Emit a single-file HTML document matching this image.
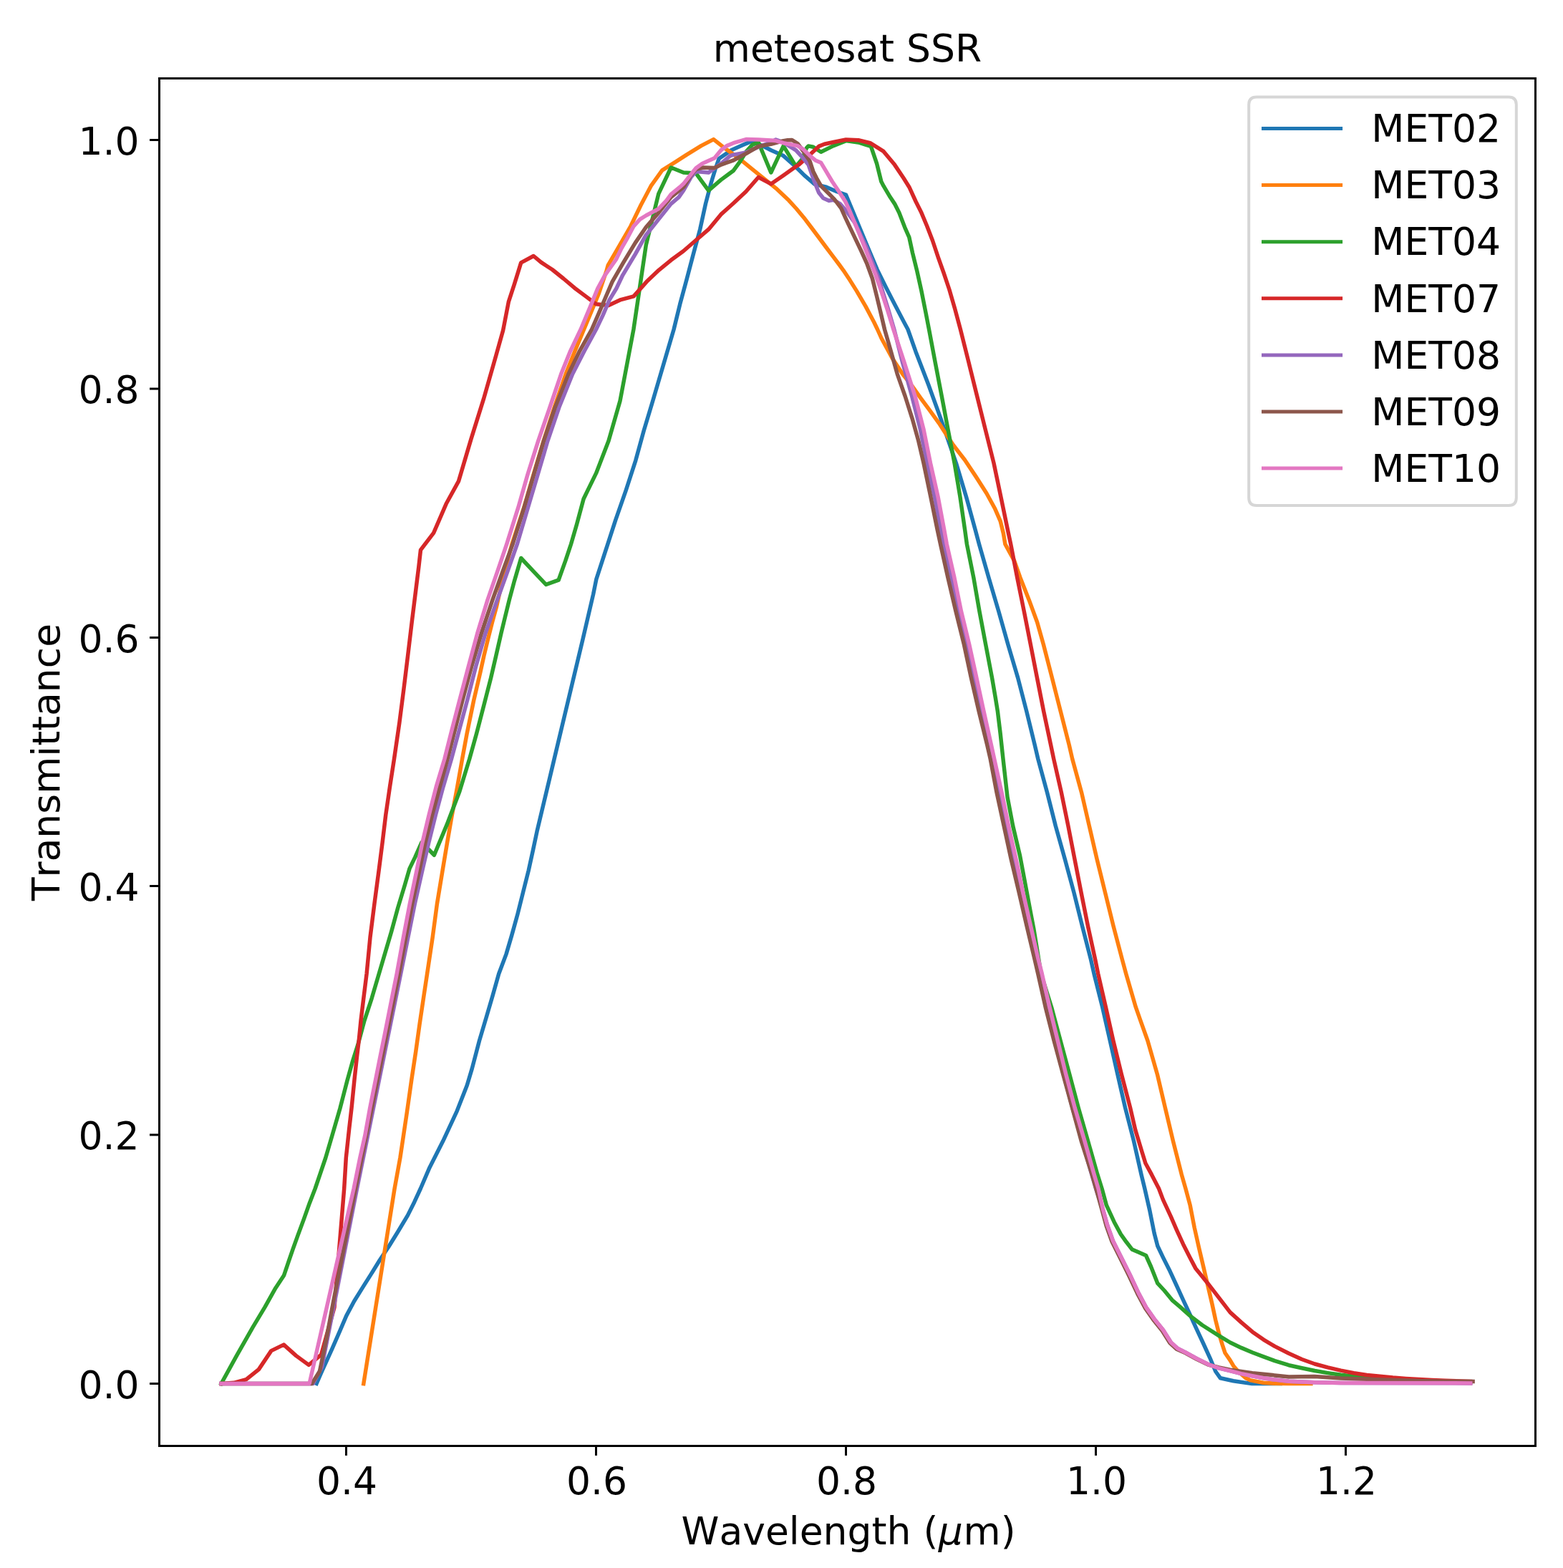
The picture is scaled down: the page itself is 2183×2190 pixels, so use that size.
<!DOCTYPE html>
<html lang="en"><head><meta charset="utf-8"><title>meteosat SSR</title>
<style>
html,body{margin:0;padding:0;background:#fff;}
body{width:2183px;height:2190px;overflow:hidden;}
svg{display:block;}
text{font-family:"DejaVu Sans","Liberation Sans",sans-serif;font-size:53.5px;fill:#000;font-kerning:none;}
.c{fill:none;stroke-width:5.5;stroke-linejoin:round;stroke-linecap:square;}
.h{fill:none;stroke-width:5;stroke-linecap:butt;}
.t{stroke:#000;stroke-width:3;fill:none;}
</style></head><body>
<svg xmlns="http://www.w3.org/2000/svg" width="2183" height="2190" viewBox="0 0 2183 2190">
<rect width="2183" height="2190" fill="#fff"/>
<defs><clipPath id="ax"><rect x="222.5" y="109.5" width="1922.0" height="1910.0"/></clipPath></defs>
<g clip-path="url(#ax)">
<polyline class="c" stroke="#1f77b4" points="442.1,1932.4 449.5,1915.5 463.6,1884.3 474.5,1859.4 483.8,1837.6 494.7,1817.3 507.2,1797.1 518.1,1779.9 530.5,1759.7 543,1741 555.5,1720.7 569.5,1697.4 578.8,1678.7 587.4,1660 600,1630.7 618.8,1593.6 638.3,1551.6 652.3,1515.8 659.3,1492.4 669.5,1453.5 678.8,1422.3 687.9,1391.2 696.7,1360 707,1332.6 714.8,1306.1 722.6,1278.1 730.4,1246.9 738.2,1215.8 744.4,1187.7 750,1161.2 774.1,1060 814.1,892.3 828.6,830 832.8,809.2 846.3,767.7 859.8,726.1 874.3,684.6 887.8,643.1 899.2,601.5 911.7,560 941.1,460 949.7,424.8 959,390.5 968.4,354.7 977.7,320.4 985.5,284.6 993.3,255 999.5,234.8 1004.2,221.5 1021.3,209.8 1036.9,202.8 1050.6,196.9 1068.1,205.2 1076.8,209.8 1094.2,217.6 1111.7,233.2 1123.4,244.9 1137.9,257.4 1153,260.9 1168.5,267.5 1181.5,272.1 1199.7,315.8 1212.1,345.5 1225.1,376.4 1237.1,400.7 1249.8,425.6 1262.5,449.7 1268,460 1279,491.2 1297,537.9 1313.9,584.6 1324.7,615.8 1335.4,646.9 1349.4,693.6 1362.3,740.4 1367.5,760 1380.9,806.7 1394.7,853.5 1407.9,900.2 1421.7,946.9 1433.8,993.6 1445.2,1040.4 1449.8,1060 1462.5,1106.7 1474.3,1153.5 1487.4,1200.2 1500,1246.9 1511.6,1293.6 1523.6,1340.4 1528,1360 1539.7,1406.7 1550.3,1453.5 1560.8,1500.2 1571.5,1546.9 1583.5,1593.6 1594,1640.4 1598.8,1660 1605.9,1691.2 1612.1,1722.3 1616.8,1740.2 1624.6,1756.6 1634,1775.3 1643.3,1795.5 1652.6,1815.8 1662,1836 1671.3,1856.3 1680.7,1876.5 1690,1896.8 1697.8,1915.5 1704.5,1924.8 1722.7,1928.7 1748.6,1932.6 1788.2,1932.6"/>
<polyline class="c" stroke="#ff7f0e" points="507.8,1932.6 551.1,1660 558.9,1617 568.2,1554.7 574.8,1508 580.7,1469 586.1,1430.1 591.9,1391.2 596.6,1360 604.2,1309.2 610.4,1262.5 618.1,1215.8 624.6,1176.8 631.4,1137.9 638.7,1098.9 645.6,1060 652.1,1024.8 661.7,978.1 670.8,939.1 675.9,915.8 681.6,892.4 687.5,869 693.5,847.2 702.6,806.7 715,760 731.7,709.2 745.2,662.5 759.2,615.8 774.2,569 790.2,522.3 802.6,491.2 815.6,460 827.7,431 836.6,409.2 847.1,378.1 849.3,370.3 864.7,343.8 880.9,315.8 895.2,286.2 909.2,259.7 924.8,237.9 943.5,226.2 959,216.1 979.3,203.6 996.6,194.6 1014,208.3 1031.5,220.7 1048.9,234.8 1068.1,250.3 1083.6,262.8 1101.9,280.1 1112.3,291.5 1122.7,303.9 1133,317.5 1143.5,331.5 1153.9,345.5 1164.2,359.1 1172.4,370 1177.9,377.6 1187.2,391.6 1196.6,406.6 1209,427.9 1220.7,450 1225.5,460 1231.1,472.5 1246.3,500.5 1261.7,523.9 1274.1,539.4 1286.3,556.6 1298.9,573.7 1311.3,590.8 1322.4,608 1331.7,622 1347.4,642.2 1363,665.6 1377.9,689 1389.8,710.8 1397.2,727.9 1401.4,745 1403.9,760 1416.7,783.4 1424.9,806.7 1437.2,837.9 1448.6,869 1457.4,900.2 1469.4,946.9 1481.3,993.6 1493.2,1040.4 1497.7,1060 1510.5,1106.7 1521.3,1153.5 1532.1,1200.2 1543.6,1246.9 1555.1,1293.6 1567.4,1340.4 1572.7,1360 1586.3,1406.7 1591.8,1422.3 1602.9,1453.5 1616.3,1500.2 1627.3,1546.9 1638.4,1593.6 1650.3,1640.4 1655.9,1660 1662.2,1683.4 1668.2,1714.5 1674.5,1742.6 1680.7,1769 1686.9,1795.5 1693.1,1822 1697.8,1843.8 1702.5,1862.5 1707.2,1878.1 1711.1,1889.8 1718.1,1899.9 1722.7,1907.7 1729.4,1915.5 1739.9,1924.8 1746.9,1927.9 1764.3,1931.3 1781.8,1932.3 1800,1932.6 1830.9,1932.6"/>
<polyline class="c" stroke="#2ca02c" points="309,1932.6 330.4,1893.6 353,1853.9 370.1,1825.4 384.9,1798.9 396.6,1781.2 402.8,1762.8 409,1744.9 416,1725.4 424.6,1702.1 432.4,1680.2 440.2,1660 454.8,1617 463.9,1585.9 474.8,1548.5 484.9,1509.5 492.7,1481.5 499.7,1459.7 509,1425.4 519.2,1394.3 529.3,1360 546.6,1301.4 555.9,1267.2 565.4,1236 571.9,1213.4 579.8,1197.1 588.9,1176.5 606.4,1194.3 624.1,1151.9 641.9,1105.2 655.7,1060 665.5,1024.8 675.6,985.9 685.6,946.9 692.8,915.8 699.9,884.6 705.6,861.2 711.3,837.9 718.4,811.4 724.3,791.2 727.7,779.5 745.2,798.2 762.6,816.4 780.1,810.2 789.7,783.4 797.5,760 805.5,732.6 815.1,696.8 832.6,660.9 850,615.8 866,560 884.9,460 896.7,380.1 902.3,342.2 919.8,270.6 937.2,234 954.7,241 972.1,242.1 989.6,266.2 1007,251.1 1024.5,238.2 1033.8,225.4 1041.9,212.2 1050.9,202.1 1059.3,198.9 1076.8,241 1094.2,203.9 1111.7,232.4 1120.2,222.3 1126.5,206.7 1129.1,203.9 1135.8,205.2 1146.6,212.2 1164,203.6 1181.5,196.6 1198.9,198.9 1209,202.1 1216.4,204.4 1224.6,228.5 1230.8,253.5 1234,259.7 1243.3,275.3 1249.5,284.6 1255.8,297.1 1263.6,317.3 1269.8,331.3 1274.5,353.1 1280.7,378.1 1286.9,406.1 1293.1,437.3 1297.5,460 1306.3,506.7 1315.3,553.5 1324.1,600.2 1333.1,646.9 1340.9,693.6 1347.7,740.4 1350.4,760 1359.8,806.7 1367.9,853.5 1376.7,900.2 1385.6,946.9 1390.4,975 1393.4,993.6 1397.2,1024.8 1401,1060 1407,1113 1414.7,1153.5 1424.6,1195.5 1434.3,1246.9 1440.1,1278.1 1443.7,1296.8 1454,1360 1468.6,1406.7 1481.1,1453.5 1493.7,1500.2 1506.1,1546.9 1519.5,1593.6 1532.8,1640.4 1539,1660 1545.4,1683.4 1556.1,1706.7 1565.4,1723.9 1573.2,1734.8 1581,1744.9 1590.3,1749.1 1600.5,1753.5 1607.5,1769 1616.8,1792.4 1626.2,1802.5 1637.1,1815.8 1648,1825.1 1662,1837.6 1679.1,1850.8 1702.5,1865.6 1718.1,1875 1733.6,1882.4 1749.2,1889 1764.8,1894.9 1780.4,1900.7 1800,1906.7 1818.2,1910.8 1836.3,1914.5 1854.5,1917.6 1872.7,1920.3 1890.9,1922.3 1909,1924.5 1945.4,1926.8 1981.7,1928.3 2053.7,1930.8"/>
<polyline class="c" stroke="#d62728" points="309,1932.6 326.5,1931.3 343.9,1926.7 361.4,1912.6 378.8,1886.6 396.3,1878.1 413.7,1893.6 431.2,1906.4 448.6,1892.1 467,1825.9 480.7,1660 483.3,1617 487.5,1578.1 491.1,1546.9 495,1508 498.4,1476.8 501.2,1453.5 504,1425.4 507.8,1394.3 512.1,1360 517,1309.2 522.9,1262.5 529.1,1215.8 534.1,1176.8 538.8,1137.9 544.5,1098.9 550.5,1060 557.9,1009.2 563.9,962.5 569.6,915.8 575.2,869 581,822.3 584.9,791.2 587.5,768.1 605.6,744.3 623.1,703.8 640.5,672.1 657.9,613.4 675.4,557.4 692.8,496.6 702.6,461.6 710.3,421.7 718.4,396.8 727.7,366.9 745.2,357.5 755.8,366.4 771.3,376.5 786.9,389 802.5,402.2 818.1,413.9 832.6,424.8 850,426.4 867.1,418.6 885,413.9 903,393.6 920.1,377.3 937.2,363.3 954.4,350.8 972.3,335.2 989.6,320.4 1007,299.4 1024.5,283.8 1041.9,267.5 1059.3,247.5 1076.8,256.9 1094.2,244.9 1111.7,232.4 1115.6,230.1 1131.2,216.1 1143.6,204.4 1151.4,201.3 1165.4,198.2 1181.5,195 1198.9,195.8 1215.3,199.7 1234,211.4 1249.5,230.1 1262,248.8 1269.8,261.2 1279.1,281.5 1286.9,297.1 1294.7,315.8 1302.5,336 1310.3,359.4 1318.1,381.2 1325.9,404.5 1333.6,431 1341.4,460 1353.1,506.7 1364.7,553.5 1376.3,600.2 1388,646.9 1397.8,693.6 1407.5,740.4 1411.7,760 1420.7,806.7 1430.2,853.5 1439.4,900.2 1448.5,946.9 1457.7,993.6 1467.6,1040.4 1471.7,1060 1482.3,1106.7 1491.9,1153.5 1501,1200.2 1510.1,1246.9 1519.5,1293.6 1529.7,1340.4 1533.7,1360 1544.4,1406.7 1554.9,1453.5 1566.3,1500.2 1578.5,1546.9 1585.7,1578.1 1595.1,1609.2 1599.9,1624.8 1608.4,1640.4 1618.5,1660 1624.4,1675.6 1635.2,1698.9 1643.3,1717.6 1652.6,1737.9 1662,1756.6 1669.8,1771.4 1686.9,1792.4 1702.5,1812.6 1718.1,1832.9 1733.6,1846.9 1749.2,1860.2 1764.8,1871.1 1780.4,1880.4 1800,1890.2 1818.2,1898.5 1836.3,1905 1854.5,1909.9 1872.7,1914.1 1890.9,1917.7 1909,1920.5 1927.2,1922.3 1945.4,1924.1 1963.6,1925.4 1981.7,1926.6 1999.9,1927.5 2018.1,1928.3 2053.7,1929.4"/>
<polyline class="c" stroke="#9467bd" points="309,1932.6 437.1,1932.6 449.5,1909.2 498.6,1660 559.7,1360 579.3,1262.5 589.8,1215.8 598.8,1176.8 608.5,1137.9 619,1098.9 630.5,1060 652.6,978.1 664.5,931.3 678,884.6 694.5,837.9 708.6,798.9 722.3,760 737.3,709.2 751.2,662.5 764.9,615.8 780.8,569 799.7,522.3 815.6,491.2 832.6,460 842,440.4 851.3,418.6 860.8,403 869.7,384.3 887.5,354.7 902.3,328.2 919.8,306.4 937.2,284.6 948.1,275.3 954.7,265.9 965.3,247.2 972.1,239.4 989.6,241 1007,228.5 1019.8,217.6 1024.5,216.1 1041.9,213 1059.3,205.2 1076.8,198.9 1083.6,195 1094.2,198.9 1111.7,209.8 1120.2,219.2 1129.1,230.1 1137.4,253.5 1143.6,269 1149.8,276.8 1157.6,280.2 1164,279.2 1173.2,284.6 1181.5,294 1193.8,311.1 1210.2,345.4 1226.1,385.9 1240.7,432.6 1248.8,460 1260.7,506.7 1273.7,553.5 1285.5,600.2 1294.8,646.9 1305.2,693.6 1314.2,740.4 1317.8,760 1329.1,806.7 1339.2,853.5 1350.3,900.2 1360.4,946.9 1370.6,993.6 1381,1040.4 1385.3,1060 1395.6,1106.7 1405.1,1153.5 1415.6,1200.2 1425.5,1246.9 1436.1,1293.6 1446.9,1340.4 1451.8,1360 1462.5,1406.7 1473.8,1453.5 1485.3,1500.2 1497.7,1546.9 1511.5,1593.6 1524.8,1640.4 1530.5,1660 1540.5,1689.6 1546.7,1711.4 1554.5,1733.2 1565.4,1755 1577.9,1779.9 1590.3,1806.4 1601.2,1826.7 1612.1,1842.2 1624.6,1857.8 1635.5,1875 1644.9,1883.5 1655.8,1889 1671.3,1897.5 1686.9,1905.3 1702.5,1910.8 1718.1,1914.7 1733.6,1918.6 1749.2,1921.7 1764.8,1924.8 1780.4,1927.1 1800,1929.2 1836.3,1930.8 1872.7,1931.5 2053.7,1931.9"/>
<polyline class="c" stroke="#8c564b" points="309,1932.6 435.5,1932.6 446.4,1915.5 455.8,1870.3 466,1815.8 496.6,1660 557.3,1360 566.8,1309.2 575.7,1262.5 585.7,1215.8 594,1176.8 603.7,1137.9 614.3,1098.9 625,1060 646,978.1 658.5,931.3 672.3,884.6 687.9,837.9 701.8,798.9 716.1,760 731.9,709.2 745.6,662.5 759.4,615.8 775.3,569 794,522.3 809.1,491.2 826.5,460 836.4,437.3 845.7,415.5 855.1,393.6 870.4,367.2 887.3,339.1 902.3,317.3 919.8,297.1 937.2,275.3 954.7,261.2 965.3,244.1 972.1,236.3 982.4,234 998,234.5 1007,230.1 1024.5,223.9 1041.9,214.5 1059.3,204.4 1076.8,201.3 1094.2,196.6 1100,195.8 1106.2,195.5 1114,200.5 1123.4,213 1131.2,225.4 1135.8,239.4 1140.5,248.8 1146.7,259.7 1156.1,269 1165.4,278.4 1174.8,290.8 1181.1,304.9 1187.7,318.9 1194.4,332.9 1202.6,350 1211,368.7 1218.4,389 1224.2,412.3 1229.8,435.7 1235.5,460 1244.5,491.2 1253.2,522.3 1264.2,553.5 1274.1,584.6 1282.8,615.8 1290,646.9 1299.8,693.6 1309.3,740.4 1313.5,760 1323.9,806.7 1334.9,853.5 1346.4,900.2 1356.4,946.9 1367.2,993.6 1378.7,1040.4 1383.2,1060 1392,1106.7 1402.1,1153.5 1412.2,1200.2 1423.3,1246.9 1434.1,1293.6 1445.2,1340.4 1449.7,1360 1460.2,1406.7 1472.1,1453.5 1484.7,1500.2 1497.5,1546.9 1510.2,1593.6 1525.2,1640.4 1530.8,1660 1539.3,1690.4 1545.2,1712.2 1553,1734 1563.9,1755.8 1576.3,1780.7 1588.8,1807.2 1599.7,1827.4 1610.6,1843 1623.1,1858.6 1634,1875.7 1643.3,1884.3 1655.8,1889.8 1671.3,1898.3 1686.9,1905.8 1702.5,1910 1718.1,1913.1 1733.6,1915.5 1749.2,1917.8 1764.8,1919.3 1780.4,1920.9 1800,1922.9 1836.3,1922.6 1872.7,1925 1909,1926.3 1945.4,1927.5 1981.7,1928.6 2018.1,1929.2 2057.1,1929.4"/>
<polyline class="c" stroke="#e377c2" points="309,1932.5 432.1,1932.5 494.1,1660 502.8,1617 509.8,1585.9 516.8,1546.9 524.6,1508 530.8,1476.8 537.1,1445.7 543.3,1414.5 549.5,1383.4 554.2,1360 563.4,1309.2 572.3,1262.5 582,1215.8 589.9,1176.8 599.2,1137.9 609.2,1098.9 620.9,1060 629.7,1024.8 641.8,978.1 654.2,931.3 666.7,884.6 681,837.9 694.5,798.9 707.7,760 723.7,709.2 737,662.5 751.7,615.8 767.9,569 783.7,522.3 796.2,491.2 811.1,460 824.6,427.9 834.7,403 844.9,384.3 860.4,362.5 868,346.9 876.9,331.3 885.1,315.8 893.7,306.4 902.3,301 919.8,291.6 931,279.9 937.2,271.4 949.7,261.2 954.7,256.6 962.1,247.2 972.1,234.8 980.8,228.5 989.6,224.6 998,220.7 1007,209.8 1015.1,203.6 1024.5,199.7 1041.9,194.6 1059.3,195 1076.8,196.1 1083.6,196.6 1094.2,199.7 1114,203.6 1121.8,208.3 1131.2,217.6 1138.9,223.9 1146.7,227.3 1153,237.9 1162.3,253.5 1171.7,267.5 1180.7,281.5 1186.5,294 1192.4,308 1199.6,325.1 1207,343.8 1214.5,362.5 1222.5,382.7 1231.2,407.7 1239.9,434.1 1247.8,460 1263.1,506.7 1278.1,553.5 1290.1,600.2 1299.5,646.9 1310,693.6 1318.8,740.4 1322.3,760 1332.9,806.7 1342.4,853.5 1353.7,900.2 1363.9,946.9 1374,993.6 1384.4,1040.4 1388.7,1060 1399,1106.7 1408.6,1153.5 1419,1200.2 1428.9,1246.9 1439.6,1293.6 1450.3,1340.4 1455.3,1360 1465.9,1406.7 1477.3,1453.5 1488.7,1500.2 1501.1,1546.9 1514.9,1593.6 1528.2,1640.4 1534,1660 1540.5,1689.6 1546.7,1711.4 1554.5,1733.2 1565.4,1755 1577.9,1779.9 1590.3,1806.4 1601.2,1826.7 1612.1,1842.2 1624.6,1857.8 1635.5,1875 1644.9,1883.5 1655.8,1889 1671.3,1897.5 1686.9,1905.3 1702.5,1910.8 1718.1,1914.7 1733.6,1918.6 1749.2,1921.7 1764.8,1924.8 1780.4,1927.1 1800,1929.2 1836.3,1930.8 1872.7,1931.5 2053.7,1931.9"/>
</g>
<path class="t" d="M483.5 2019.5 V2033.0"/>
<path class="t" d="M832.5 2019.5 V2033.0"/>
<path class="t" d="M1181.5 2019.5 V2033.0"/>
<path class="t" d="M1530.5 2019.5 V2033.0"/>
<path class="t" d="M1879.5 2019.5 V2033.0"/>
<path class="t" d="M222.5 195.5 H209.0"/>
<path class="t" d="M222.5 543.0 H209.0"/>
<path class="t" d="M222.5 890.5 H209.0"/>
<path class="t" d="M222.5 1237.5 H209.0"/>
<path class="t" d="M222.5 1585.0 H209.0"/>
<path class="t" d="M222.5 1932.5 H209.0"/>
<rect x="222.5" y="109.5" width="1922.0" height="1910.0" fill="none" stroke="#000" stroke-width="3"/>
<text x="484.5" y="2086.8" text-anchor="middle">0.4</text>
<text x="833.5" y="2086.8" text-anchor="middle">0.6</text>
<text x="1182.5" y="2086.8" text-anchor="middle">0.8</text>
<text x="1531.5" y="2086.8" text-anchor="middle">1.0</text>
<text x="1880.5" y="2086.8" text-anchor="middle">1.2</text>
<text x="194.6" y="215.9" text-anchor="end">1.0</text>
<text x="194.6" y="563.4" text-anchor="end">0.8</text>
<text x="194.6" y="910.9" text-anchor="end">0.6</text>
<text x="194.6" y="1257.9" text-anchor="end">0.4</text>
<text x="194.6" y="1605.4" text-anchor="end">0.2</text>
<text x="194.6" y="1952.9" text-anchor="end">0.0</text>
<text x="1183.5" y="86" text-anchor="middle">meteosat SSR</text>
<text x="1185.1" y="2156.8" text-anchor="middle">Wavelength (<tspan font-style="italic" dx="0.5">μ</tspan><tspan dx="0.8">m)</tspan></text>
<text transform="translate(83.1 1064.5) rotate(-90)" text-anchor="middle">Transmittance</text>
<path d="M1754.9 135.4 L2107.1 135.4 Q2117.8 135.4 2117.8 146.1 L2117.8 695.3 Q2117.8 706.0 2107.1 706.0 L1754.9 706.0 Q1744.2 706.0 1744.2 695.3 L1744.2 146.1 Q1744.2 135.4 1754.9 135.4 Z" fill="#fff" fill-opacity="0.8" stroke="#d6d6d6" stroke-width="4"/>
<path class="h" stroke="#1f77b4" d="M1762 179.5 H1875.1"/>
<text x="1915.3" y="198.2">MET02</text>
<path class="h" stroke="#ff7f0e" d="M1762 258.6 H1875.1"/>
<text x="1915.3" y="277.3">MET03</text>
<path class="h" stroke="#2ca02c" d="M1762 337.7 H1875.1"/>
<text x="1915.3" y="356.4">MET04</text>
<path class="h" stroke="#d62728" d="M1762 416.8 H1875.1"/>
<text x="1915.3" y="435.5">MET07</text>
<path class="h" stroke="#9467bd" d="M1762 495.9 H1875.1"/>
<text x="1915.3" y="514.6">MET08</text>
<path class="h" stroke="#8c564b" d="M1762 575 H1875.1"/>
<text x="1915.3" y="593.7">MET09</text>
<path class="h" stroke="#e377c2" d="M1762 654.1 H1875.1"/>
<text x="1915.3" y="672.8">MET10</text>
</svg>
</body></html>
